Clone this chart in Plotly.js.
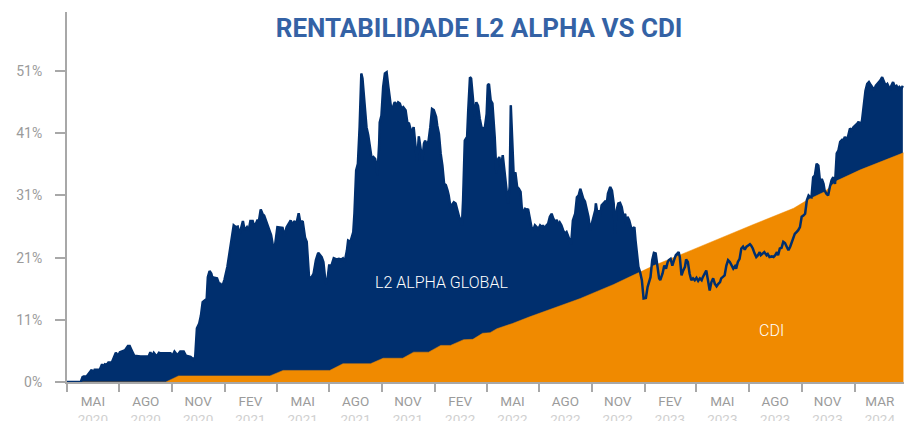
<!DOCTYPE html>
<html>
<head>
<meta charset="utf-8">
<script src="https://cdn.plot.ly/plotly-3.0.1.min.js"></script>
<style>html,body{margin:0;padding:0;background:#fff;}#chart{width:904px;height:421px;}</style>
</head>
<body>
<div id="chart"></div>
<script>
// L2 Alpha Global cumulative return (%)
const l2Dates = [
"2020-04-01","2020-04-25","2020-04-28","2020-04-30","2020-05-05","2020-05-08","2020-05-14","2020-05-16","2020-05-19","2020-05-28",
"2020-06-01","2020-06-03","2020-06-06","2020-06-09","2020-06-12","2020-06-18","2020-06-21","2020-06-25","2020-06-29","2020-07-02",
"2020-07-08","2020-07-11","2020-07-16","2020-07-19","2020-07-23","2020-07-27","2020-08-07","2020-08-21","2020-08-24","2020-08-27",
"2020-08-30","2020-09-04","2020-09-08","2020-09-11","2020-09-28","2020-10-01","2020-10-05","2020-10-08","2020-10-10","2020-10-15",
"2020-10-21","2020-10-25","2020-11-02","2020-11-07","2020-11-10","2020-11-13","2020-11-17","2020-11-20","2020-11-23","2020-11-27",
"2020-11-30","2020-12-02","2020-12-05","2020-12-08","2020-12-11","2020-12-13","2020-12-18","2020-12-21","2020-12-24","2020-12-27",
"2020-12-31","2021-01-05","2021-01-10","2021-01-13","2021-01-16","2021-01-20","2021-01-23","2021-01-26","2021-01-29","2021-02-01",
"2021-02-04","2021-02-08","2021-02-11","2021-02-14","2021-02-18","2021-02-21","2021-02-26","2021-03-01","2021-03-04","2021-03-07",
"2021-03-10","2021-03-14","2021-03-19","2021-03-22","2021-03-26","2021-03-29","2021-04-02","2021-04-07","2021-04-11","2021-04-14",
"2021-04-18","2021-04-22","2021-04-25","2021-04-29","2021-05-01","2021-05-05","2021-05-09","2021-05-12","2021-05-16","2021-05-20",
"2021-05-23","2021-05-27","2021-05-31","2021-06-04","2021-06-08","2021-06-12","2021-06-18","2021-06-21","2021-06-25","2021-06-28",
"2021-07-01","2021-07-05","2021-07-09","2021-07-14","2021-07-18","2021-07-22","2021-07-25","2021-07-28","2021-08-01","2021-08-03",
"2021-08-07","2021-08-12","2021-08-14","2021-08-17","2021-08-20","2021-08-23","2021-08-26","2021-08-28","2021-08-31","2021-09-04",
"2021-09-07","2021-09-10","2021-09-13","2021-09-16","2021-09-19","2021-09-22","2021-09-23","2021-09-26","2021-09-27","2021-09-30",
"2021-10-03","2021-10-06","2021-10-09","2021-10-12","2021-10-14","2021-10-17","2021-10-20","2021-10-23","2021-10-26","2021-10-29",
"2021-11-01","2021-11-04","2021-11-07","2021-11-11","2021-11-14","2021-11-17","2021-11-20","2021-11-23","2021-11-25","2021-11-28",
"2021-12-01","2021-12-04","2021-12-07","2021-12-10","2021-12-13","2021-12-15","2021-12-18","2021-12-21","2021-12-24","2021-12-27",
"2021-12-30","2022-01-03","2022-01-05","2022-01-08","2022-01-11","2022-01-14","2022-01-17","2022-01-20","2022-01-23","2022-01-25",
"2022-01-28","2022-02-01","2022-02-03","2022-02-06","2022-02-09","2022-02-12","2022-02-15","2022-02-17","2022-02-19","2022-02-22",
"2022-02-24","2022-02-26","2022-02-28","2022-03-03","2022-03-05","2022-03-08","2022-03-11","2022-03-14","2022-03-17","2022-03-20",
"2022-03-23","2022-03-26","2022-03-29","2022-04-01","2022-04-03","2022-04-05","2022-04-08","2022-04-11","2022-04-13","2022-04-15",
"2022-04-18","2022-04-20","2022-04-23","2022-04-26","2022-04-29","2022-05-03","2022-05-05","2022-05-08","2022-05-11","2022-05-13",
"2022-05-16","2022-05-18","2022-05-21","2022-05-24","2022-05-27","2022-05-30","2022-06-01","2022-06-04","2022-06-07","2022-06-10",
"2022-06-12","2022-06-15","2022-06-18","2022-06-21","2022-06-24","2022-06-27","2022-06-30","2022-07-03","2022-07-06","2022-07-08",
"2022-07-11","2022-07-14","2022-07-17","2022-07-20","2022-07-23","2022-07-26","2022-07-29","2022-08-01","2022-08-03","2022-08-06",
"2022-08-09","2022-08-12","2022-08-15","2022-08-18","2022-08-21","2022-08-24","2022-08-26","2022-08-29","2022-09-02","2022-09-05",
"2022-09-08","2022-09-11","2022-09-13","2022-09-16","2022-09-19","2022-09-22","2022-09-25","2022-09-28","2022-10-01","2022-10-04",
"2022-10-07","2022-10-08","2022-10-11","2022-10-13","2022-10-15","2022-10-18","2022-10-21","2022-10-24","2022-10-27","2022-10-29",
"2022-11-02","2022-11-05","2022-11-08","2022-11-10","2022-11-13","2022-11-16","2022-11-19","2022-11-22","2022-11-25","2022-11-28",
"2022-11-30","2022-12-02","2022-12-05","2022-12-08","2022-12-11","2022-12-14","2022-12-16","2022-12-19","2022-12-21","2022-12-24",
"2022-12-27","2022-12-30","2023-01-03","2023-01-06","2023-01-08","2023-01-11","2023-01-14","2023-01-17","2023-01-20","2023-01-23",
"2023-01-26","2023-01-28","2023-02-01","2023-02-04","2023-02-07","2023-02-10","2023-02-12","2023-02-15","2023-02-18","2023-02-21",
"2023-02-24","2023-02-27","2023-03-01","2023-03-03","2023-03-06","2023-03-09","2023-03-12","2023-03-14","2023-03-17","2023-03-20",
"2023-03-23","2023-03-26","2023-03-29","2023-04-01","2023-04-04","2023-04-07","2023-04-10","2023-04-12","2023-04-15","2023-04-18",
"2023-04-21","2023-04-24","2023-04-27","2023-04-30","2023-05-03","2023-05-06","2023-05-09","2023-05-12","2023-05-14","2023-05-17",
"2023-05-20","2023-05-23","2023-05-26","2023-05-29","2023-06-01","2023-06-04","2023-06-07","2023-06-09","2023-06-12","2023-06-15",
"2023-06-18","2023-06-21","2023-06-24","2023-06-27","2023-06-30","2023-07-03","2023-07-05","2023-07-08","2023-07-11","2023-07-14",
"2023-07-17","2023-07-20","2023-07-22","2023-07-25","2023-07-28","2023-08-01","2023-08-03","2023-08-06","2023-08-10","2023-08-13",
"2023-08-16","2023-08-19","2023-08-21","2023-08-24","2023-08-27","2023-08-30","2023-09-02","2023-09-05","2023-09-08","2023-09-11",
"2023-09-14","2023-09-17","2023-09-19","2023-09-22","2023-09-25","2023-09-28","2023-10-01","2023-10-04","2023-10-07","2023-10-10",
"2023-10-13","2023-10-15","2023-10-18","2023-10-21","2023-10-24","2023-10-27","2023-10-30","2023-11-02","2023-11-05","2023-11-08",
"2023-11-10","2023-11-13","2023-11-16","2023-11-19","2023-11-22","2023-11-25","2023-11-28","2023-12-01","2023-12-04","2023-12-07",
"2023-12-10","2023-12-12","2023-12-15","2023-12-18","2023-12-21","2023-12-24","2023-12-27","2023-12-30","2024-01-03","2024-01-06",
"2024-01-08","2024-01-11","2024-01-14","2024-01-17","2024-01-20","2024-01-23","2024-01-26","2024-01-28","2024-02-01","2024-02-04",
"2024-02-07","2024-02-10","2024-02-12","2024-02-15","2024-02-18","2024-02-21","2024-02-24","2024-02-27","2024-03-01","2024-03-03",
"2024-03-05","2024-03-08","2024-03-11","2024-03-14","2024-03-17","2024-03-19","2024-03-22","2024-03-25"
];
const l2Values = [
0,0,0.8,0.9,0.9,1.3,2.0,1.4,2.0,2.0,
2.9,2.5,2.9,2.8,3.2,3.2,3.8,4.8,4.3,4.9,
5.1,5.2,5.9,5.9,5.1,4.3,4.2,4.2,4.9,4.2,
4.8,4.2,4.8,4.7,4.7,4.2,5.0,4.7,4.4,5.0,
5.0,4.3,4.1,3.7,4.1,8.8,9.6,10.9,13.1,13.4,
13.6,17.2,18.2,17.8,16.7,17.1,17.0,16.2,16.1,15.6,
16.8,18.9,22.1,23.2,25.7,25.4,25.5,24.2,25.1,26.4,
24.9,25.4,24.8,26.4,26.4,25.4,26.5,26.5,28.3,27.6,
27.3,26.2,24.8,24.1,21.9,22.5,25.4,25.4,25.3,23.9,
25.4,26.0,26.5,25.4,26.4,25.9,27.7,26.1,26.4,23.7,
23.0,17.2,17.1,17.8,20.0,21.2,20.5,19.7,16.1,16.7,
19.1,19.1,20.3,20.1,20.2,20.1,20.3,19.7,21.6,23.2,
23.0,24.6,27.6,34.7,35.8,41.8,50.6,49.8,46.7,41.8,
40.5,38.5,36.6,36.9,36.6,35.3,33.9,39.1,42.6,43.7,
48.4,50.6,50.8,48.4,47.0,44.8,45.1,45.9,45.4,45.9,
45.7,44.8,45.1,44.6,42.6,42.4,41.3,41.3,41.8,39.1,
36.1,40.3,38.5,36.4,39.1,39.6,38.8,39.6,41.8,44.8,
44.6,43.5,42.1,40.7,37.5,35.5,32.5,32.3,31.4,30.6,
28.7,29.3,29.5,29.3,28.2,27.1,26.5,25.7,29.8,39.6,
39.9,40.2,44.6,50.0,49.8,46.2,43.5,45.9,45.3,43.2,
41.8,41.6,41.8,44.0,48.7,48.9,46.2,45.7,43.2,40.2,
34.2,36.4,36.9,35.3,37.2,34.2,32.0,29.3,32.0,45.4,
37.5,33.9,34.4,32.0,31.7,31.2,28.7,27.6,28.4,28.2,
28.4,26.8,25.4,24.9,25.7,25.4,25.1,25.7,25.4,25.7,
25.1,25.7,26.0,27.1,27.6,26.8,26.2,26.6,25.8,26.2,
25.7,24.9,24.3,24.6,23.8,23.2,22.6,26.5,27.6,30.3,
30.6,31.7,30.9,30.1,29.6,28.4,27.1,24.9,26.0,26.8,
28.2,29.3,27.4,28.2,27.1,29.0,29.4,29.6,29.3,30.9,
32.0,31.4,29.3,24.3,28.2,29.3,29.4,28.7,27.1,27.6,
25.7,27.1,26.5,25.4,25.1,25.4,23.2,20.0,18.9,18.0,
16.7,13.7,13.8,15.6,16.4,17.2,20.0,21.2,21.1,19.4,
17.0,16.7,17.8,19.1,18.6,19.7,20.0,20.2,19.1,20.0,
20.8,21.1,21.3,20.5,17.5,18.3,18.9,20.1,19.7,17.8,
16.7,17.0,16.7,17.1,16.6,17.0,16.7,17.2,17.8,18.3,
16.7,15.0,16.4,17.0,16.1,15.7,16.1,16.4,17.0,17.2,
17.5,19.1,20.0,19.7,19.1,18.6,19.0,18.6,19.7,20.2,
21.9,22.2,21.7,22.2,22.4,22.6,22.4,21.9,21.1,20.5,
20.8,21.3,20.8,21.1,21.3,20.8,21.0,20.5,20.6,20.5,
20.8,21.3,20.8,21.9,22.0,23.0,22.8,22.2,21.6,22.2,
23.0,24.1,24.3,24.6,24.9,25.4,27.1,27.3,27.6,29.8,
30.6,30.4,30.3,33.6,33.9,35.8,35.5,32.8,33.3,32.5,
31.4,30.9,30.6,32.0,33.1,33.6,32.5,37.5,38.0,39.4,
39.7,39.4,40.2,39.7,40.4,41.6,41.3,41.8,42.1,42.4,
42.7,42.1,42.9,45.7,47.8,48.9,49.2,48.9,48.4,47.9,
48.6,48.9,49.2,49.5,50.0,49.2,48.6,48.9,48.4,47.9,
48.6,49.2,48.4,48.6,48.1,48.4,48.1,48.6
];

// CDI cumulative return (%)
const cdiDates = [
"2020-04-01","2020-09-20","2020-10-12","2021-03-20","2021-04-12","2021-07-02","2021-07-25","2021-09-11","2021-10-03","2021-11-06",
"2021-11-25","2021-12-21","2022-01-11","2022-01-28","2022-02-20","2022-03-08","2022-03-25","2022-04-07","2022-04-19","2022-05-16",
"2022-06-15","2022-07-14","2022-08-12","2022-09-11","2022-10-11","2022-11-08","2022-12-07","2023-01-17","2023-03-15","2023-05-12",
"2023-07-08","2023-09-17","2023-10-10","2023-11-10","2023-12-01","2024-01-11","2024-03-26"
];
const cdiValues = [
0,0,1.0,1.0,1.9,1.9,3.0,3.0,3.9,3.9,
4.9,4.9,6.0,6.0,6.95,7.0,8.0,8.1,8.75,9.6,
10.7,11.7,12.6,13.7,14.9,16.0,17.3,19.1,21.3,23.6,
25.8,28.5,29.8,31.2,33.0,34.8,37.6
];

// Axis ticks
const yTickVals = [0, 10.2, 20.4, 30.6, 40.8, 51];
const yTickText = ["0%", "11%", "21%", "31%", "41%", "51%"];
const xLabelDates = ["2020-05-16","2020-08-16","2020-11-15","2021-02-14","2021-05-16","2021-08-16","2021-11-15","2022-02-14",
  "2022-05-16","2022-08-16","2022-11-15","2023-02-14","2023-05-16","2023-08-16","2023-11-15","2024-02-14"];
const xMonths = ["MAI","AGO","NOV","FEV","MAI","AGO","NOV","FEV","MAI","AGO","NOV","FEV","MAI","AGO","NOV","MAR"];
const xYears = ["2020","2020","2020","2021","2021","2021","2021","2022","2022","2022","2022","2023","2023","2023","2023","2024"];
const xQuarterTicks = ["2020-04-01","2020-07-01","2020-10-01","2021-01-01","2021-04-01","2021-07-01","2021-10-01","2022-01-01",
  "2022-04-01","2022-07-01","2022-10-01","2023-01-01","2023-04-01","2023-07-01","2023-10-01","2024-01-01"];

const NAVY = "#002f6e";
const ORANGE = "#f08a00";
const GRAY = "#a8a8a8";

const xTickText = xMonths.map((m, i) => m + "<br><span style='color:#d0d0d0'>" + xYears[i] + "</span>");

const traces = [
  {x: l2Dates, y: l2Values, type: "scatter", mode: "lines", fill: "tozeroy",
   fillcolor: NAVY, line: {color: NAVY, width: 0.5}, hoverinfo: "skip"},
  {x: cdiDates, y: cdiValues, type: "scatter", mode: "lines", fill: "tozeroy",
   fillcolor: ORANGE, line: {color: ORANGE, width: 0.5}, hoverinfo: "skip"},
  {x: l2Dates, y: l2Values, type: "scatter", mode: "lines",
   line: {color: NAVY, width: 2.5}, hoverinfo: "skip"}
];

const layout = {
  width: 904, height: 421,
  margin: {l: 67, r: 0, t: 12, b: 39},
  paper_bgcolor: "#ffffff", plot_bgcolor: "#ffffff",
  showlegend: false, hovermode: false,
  title: {text: "RENTABILIDADE L2 ALPHA VS CDI", xref: "container", yref: "container",
    x: 0.53, xanchor: "center", y: 0.933, yanchor: "middle",
    font: {family: "Roboto, sans-serif", size: 26, color: "#3462a5", weight: 700}},
  xaxis: {
    type: "date", range: ["2020-04-01", "2024-03-27"],
    showgrid: false, zeroline: false, showline: true, linecolor: GRAY, linewidth: 2,
    tickmode: "array", tickvals: xLabelDates, ticktext: xTickText,
    ticks: "outside", ticklen: 6, tickcolor: "rgba(0,0,0,0)",
    tickfont: {family: "Roboto, sans-serif", size: 13.5, color: "#9b9b9b"},
    minor: {tickmode: "array", tickvals: xQuarterTicks, ticks: "outside", ticklen: 8,
      tickwidth: 2, tickcolor: GRAY, showgrid: false}
  },
  yaxis: {
    range: [0, 60.7],
    showgrid: false, zeroline: false, showline: true, linecolor: GRAY, linewidth: 2,
    tickmode: "array", tickvals: yTickVals, ticktext: yTickText,
    ticks: "outside", ticklen: 10, tickwidth: 2, tickcolor: GRAY,
    ticklabelstandoff: 10,
    tickfont: {family: "Roboto, sans-serif", size: 14, color: "#9b9b9b"}
  },
  annotations: [
    {text: "L2 ALPHA GLOBAL", xref: "paper", yref: "paper", x: 0.447, y: 0.27,
     xanchor: "center", yanchor: "middle", showarrow: false,
     font: {family: "Roboto, sans-serif", size: 16, color: "#ffffff", weight: 300}},
    {text: "CDI", xref: "paper", yref: "paper", x: 0.842, y: 0.139,
     xanchor: "center", yanchor: "middle", showarrow: false,
     font: {family: "Roboto, sans-serif", size: 16, color: "#ffffff", weight: 300}}
  ]
};

Plotly.newPlot("chart", traces, layout, {displayModeBar: false, staticPlot: true});
</script>
</body>
</html>
